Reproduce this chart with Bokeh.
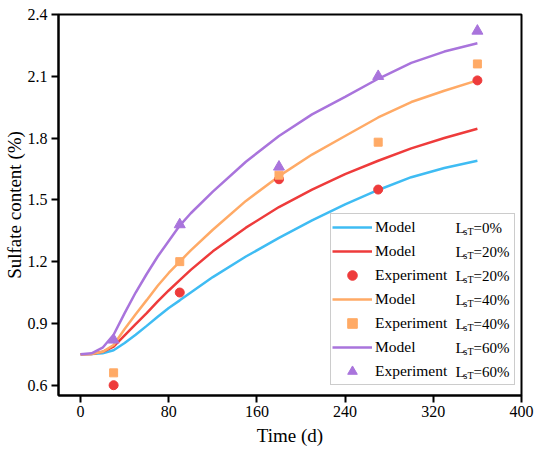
from bokeh.plotting import figure
from bokeh.models import Legend, LegendItem, Range1d, FixedTicker, Label
from bokeh.embed import file_html
from bokeh.resources import INLINE

# ---- data ----
t_model = [0, 10, 20, 30, 40, 50, 60, 70, 80, 90, 100, 120, 150, 180, 210, 240, 270, 300, 330, 360]
model_0 = [0.75, 0.751, 0.755, 0.77, 0.805, 0.845, 0.888, 0.932, 0.975, 1.012, 1.05, 1.125, 1.225,
           1.315, 1.40, 1.478, 1.548, 1.61, 1.655, 1.69]
model_20 = [0.75, 0.752, 0.762, 0.787, 0.842, 0.897, 0.95, 1.007, 1.06, 1.11, 1.16, 1.25, 1.365,
            1.465, 1.55, 1.625, 1.69, 1.75, 1.80, 1.845]
model_40 = [0.75, 0.752, 0.762, 0.795, 0.873, 0.945, 1.013, 1.083, 1.145, 1.20, 1.255, 1.355, 1.495,
            1.615, 1.72, 1.81, 1.90, 1.975, 2.03, 2.08]
model_60 = [0.75, 0.755, 0.782, 0.845, 0.95, 1.05, 1.14, 1.225, 1.30, 1.375, 1.435, 1.54, 1.685,
            1.81, 1.915, 2.0, 2.088, 2.165, 2.22, 2.26]

t_exp = [30, 90, 180, 270, 360]
exp_20 = [0.60, 1.05, 1.60, 1.55, 2.08]
exp_40 = [0.66, 1.20, 1.62, 1.78, 2.16]
exp_60 = [0.82, 1.38, 1.66, 2.10, 2.32]

x_ticks = [0, 80, 160, 240, 320, 400]
y_ticks = [0.6, 0.9, 1.2, 1.5, 1.8, 2.1, 2.4]
legend_pct = ["0%", "20%", "20%", "40%", "40%", "60%", "60%"]

BLUE = "#3fbcf3"
RED = "#ee3b3b"
ORANGE = "#ffaa66"
PURPLE = "#a974dc"
FONT = "Liberation Serif"

W, H = 534, 449
FL, FR, FT, FB = 58, 521, 14, 395   # frame edges in figure pixels
X0, X1, Y0, Y1 = -20, 400, 0.55, 2.4

p = figure(width=W, height=H, output_backend="svg", toolbar_location=None,
           x_range=Range1d(X0, X1), y_range=Range1d(Y0, Y1),
           min_border_left=FL, min_border_right=W - FR, min_border_top=FT, min_border_bottom=H - FB)

p.grid.visible = False
p.outline_line_color = "black"
p.outline_line_width = 2

for ax in (p.xaxis[0], p.yaxis[0]):
    ax.axis_line_width = 2
    ax.major_tick_line_width = 2
    ax.major_tick_out = 7
    ax.major_tick_in = 0
    ax.minor_tick_line_color = None
    ax.major_label_text_font = FONT
    ax.major_label_text_font_size = "16px"
    ax.major_label_text_color = "black"
    ax.axis_label_text_font = FONT
    ax.axis_label_text_font_size = "19px"
    ax.axis_label_text_font_style = "normal"
    ax.axis_label_text_color = "black"

p.xaxis.ticker = FixedTicker(ticks=x_ticks)
p.yaxis.ticker = FixedTicker(ticks=y_ticks)
p.xaxis.major_label_standoff = 3
p.yaxis.major_label_standoff = 4
p.xaxis.axis_label = "Time (d)"
p.yaxis.axis_label = "Sulfate content (%)"
p.xaxis.axis_label_standoff = 5
p.yaxis.axis_label_standoff = 0

lw = 2.5
r_m0 = p.line(t_model, model_0, line_color=BLUE, line_width=lw)
r_m20 = p.line(t_model, model_20, line_color=RED, line_width=lw)
r_m40 = p.line(t_model, model_40, line_color=ORANGE, line_width=lw)
r_m60 = p.line(t_model, model_60, line_color=PURPLE, line_width=lw)

r_e20 = p.scatter(t_exp, exp_20, marker="circle", size=9, fill_color=RED, line_color=RED)
r_e40 = p.scatter(t_exp, exp_40, marker="square", size=8, fill_color=ORANGE, line_color=ORANGE)
r_e60 = p.scatter(t_exp, exp_60, marker="triangle", size=11, fill_color=PURPLE, line_color=PURPLE)

items = [
    LegendItem(label="Model", renderers=[r_m0]),
    LegendItem(label="Model", renderers=[r_m20]),
    LegendItem(label="Experiment", renderers=[r_e20]),
    LegendItem(label="Model", renderers=[r_m40]),
    LegendItem(label="Experiment", renderers=[r_e40]),
    LegendItem(label="Model", renderers=[r_m60]),
    LegendItem(label="Experiment", renderers=[r_e60]),
]
LEG_W = 183
LEG_LEFT = FR - 8 - LEG_W
leg = Legend(items=items, location=(LEG_LEFT - FL, 10), margin=0, padding=1, spacing=0,
             glyph_width=40, glyph_height=24, label_height=24, label_width=LEG_W - 45,
             label_standoff=3, label_text_font=FONT, label_text_font_size="15.5px",
             label_text_color="black",
             border_line_color="#999999", border_line_width=1,
             background_fill_alpha=0)
p.add_layout(leg)

# L_sT parts of the legend labels (screen units, measured from the frame's bottom-left)
row_py = [227.3 + 24 * i for i in range(7)]
for i, pct in enumerate(legend_pct):
    sy = FB - row_py[i]
    p.add_layout(Label(x=LEG_LEFT + 125 - FL, y=sy, x_units="screen", y_units="screen",
                       text="L", text_font=FONT, text_font_size="15.5px",
                       text_baseline="middle", text_color="black"))
    p.add_layout(Label(x=LEG_LEFT + 133 - FL, y=sy - 4, x_units="screen", y_units="screen",
                       text="sT", text_font=FONT, text_font_size="10px",
                       text_baseline="middle", text_color="black"))
    p.add_layout(Label(x=LEG_LEFT + 143 - FL, y=sy, x_units="screen", y_units="screen",
                       text="=" + pct, text_font=FONT, text_font_size="15px",
                       text_baseline="middle", text_color="black"))

open("out.html", "w").write(file_html(p, INLINE))
